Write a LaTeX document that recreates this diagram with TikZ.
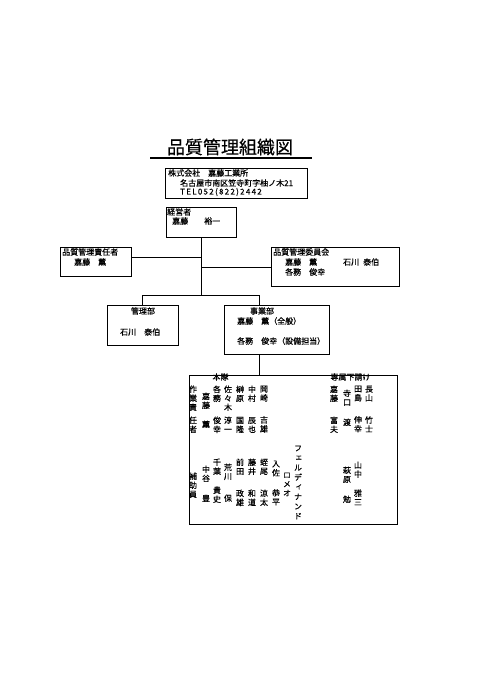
\documentclass[tikz,border=0pt]{standalone}
\usepackage{fontspec}
\setmainfont{Noto Sans CJK JP}[FakeBold=0.45]
\newfontfamily\tatefont{Noto Sans CJK JP}[RawFeature=+vert, FakeBold=0.45]

\begin{document}
\begin{tikzpicture}[x=1pt, y=-1pt,
    box/.style={draw, line width=0.8pt, inner sep=0pt},
    lbl/.style={anchor=west, inner sep=0pt,
                font=\fontsize{8}{9}\selectfont},
    hd/.style={inner sep=0pt, font=\fontsize{8}{9}\selectfont},
    vcol/.style={anchor=north, align=center, inner sep=0pt,
                 font=\tatefont\fontsize{8}{9}\selectfont},
    link/.style={line width=0.8pt},
  ]
  \fill[white] (0,0) rectangle (480,679);
  \useasboundingbox (0,0) rectangle (480,679);

  % title
  \node[inner sep=0pt, font=\fontsize{18}{20}\selectfont] (title)
      at (230,147) {品質管理組織図};
  \draw[line width=1.4pt] (150,158) -- (312,158);

  % boxes
  \node[box, minimum width=142pt, minimum height=30pt] (comp) at (236,183) {};
  \node[box, minimum width=70pt, minimum height=30pt] (keiei) at (201,222) {};
  \node[box, minimum width=71pt, minimum height=29pt] (sekinin) at (95.5,261.5) {};
  \node[box, minimum width=128pt, minimum height=39pt] (iinkai) at (335,266.5) {};
  \node[box, minimum width=71pt, minimum height=40pt] (kanri) at (142.5,325) {};
  \node[box, minimum width=105pt, minimum height=49pt] (jigyo) at (276.5,329.5) {};
  \node[box, minimum width=208pt, minimum height=149pt] (genba) at (293,449.5) {};

  % box texts
  \node[lbl] (comp-a) at (168,173) {株式会社　嘉藤工業所};
  \node[lbl] (comp-b) at (180,183) {名古屋市南区笠寺町字柚ノ木21};
  \node[lbl] (comp-c) at (180,192)
      {\addfontfeature{LetterSpace=16}TEL052(822)2442};
  \node[lbl] (keiei-a) at (167,212) {経営者};
  \node[lbl] (keiei-b) at (172,221) {嘉藤　　裕一};
  \node[lbl] (sek-a) at (62,252) {品質管理責任者};
  \node[lbl] (sek-b) at (74,262) {嘉藤　薫};
  \node[lbl] (iin-a) at (273,252) {品質管理委員会};
  \node[lbl] (iin-b) at (285,262) {嘉藤　薫};
  \node[lbl] (iin-c) at (343,262) {石川\hspace{4pt}泰伯};
  \node[lbl] (iin-d) at (285,272) {各務　俊幸};
  \node[hd] (kanri-a) at (143,311) {管理部};
  \node[lbl] (kanri-b) at (120,332) {石川　泰伯};
  \node[hd] (jig-a) at (262,311) {事業部};
  \node[lbl] (jig-b) at (237,321) {嘉藤　薫（全般）};
  \node[lbl] (jig-c) at (237,341) {各務　俊幸（設備担当）};

  % connectors
  \coordinate (br) at (201,295);
  \coordinate (j1) at (201,257);
  \coordinate (j2) at (201,267);
  \coordinate (jd) at (259,295);
  \draw[link] (keiei.south) -- (br);
  \draw[link] (sekinin.east |- j1) -- (j1);
  \draw[link] (j2) -- (iinkai.west |- j2);
  \draw[link] (kanri.north) |- (jd) -- (jd |- jigyo.north);
  \draw[link] (jd |- jigyo.south) -- (jd |- genba.north);

  % hontai
  \node[hd] (hontai) at (220.5,377) {本隊};
  \node[vcol] (c-sak) at (193,385.4) {作\\業\\責\\[4pt]任\\者};
  \node[vcol] (c-kat) at (206,392.4) {嘉\\藤\\[10pt]薫};
  \node[vcol] (c-kag) at (217,385.4) {各\\務\\[13pt]俊\\幸};
  \node[vcol] (c-sas) at (228,385.4) {佐\\々\\木\\[4pt]淳\\一};
  \node[vcol] (c-sak2) at (240,385.4) {榊\\原\\[13pt]国\\隆};
  \node[vcol] (c-nak) at (252,385.4) {中\\村\\[13pt]辰\\也};
  \node[vcol] (c-oka) at (264,385.4) {岡\\崎\\[13pt]吉\\雄};

  % senzoku shitauke
  \node[hd] (senzoku) at (350.5,377) {専属下請け};
  \node[vcol] (c-kat2) at (334,385.4) {嘉\\藤\\[13pt]富\\夫};
  \node[vcol] (c-ter) at (347,389.4) {寺\\口\\[11pt]渡};
  \node[vcol] (c-tas) at (358,385.4) {田\\島\\[13pt]伸\\幸};
  \node[vcol] (c-nag) at (369,385.4) {長\\山\\[13pt]竹\\士};

  % hojoin
  \node[vcol] (c-hoj) at (193,472.4) {補\\助\\員};
  \node[vcol] (c-nkt) at (206,465.4) {中\\谷\\[11pt]豊};
  \node[vcol] (c-chi) at (217,458.4) {千\\葉\\[10pt]貴\\史};
  \node[vcol] (c-ara) at (228,463.4) {荒\\川\\[13pt]保};
  \node[vcol] (c-mae) at (240,458.4) {前\\田\\[13pt]政\\雄};
  \node[vcol] (c-fuj) at (252,458.4) {藤\\井\\[13pt]和\\道};
  \node[vcol] (c-hir) at (264,458.4) {蛭\\尾\\[13pt]涼\\太};
  \node[vcol] (c-iri) at (276,460.4) {入\\佐\\[11pt]恭\\平};
  \node[vcol] (c-rom) at (287,472.4) {ロ\\メ\\オ};
  \node[vcol, font=\tatefont\fontsize{8}{9.7}\selectfont] (c-fer)
      at (298,445.4) {フ\\ェ\\ル\\デ\\ィ\\ナ\\ン\\ド};
  \node[vcol] (c-hag) at (347,466.4) {萩\\原\\[11pt]勉};
  \node[vcol] (c-yam) at (358,461.4) {山\\中\\[10pt]雅\\三};
\end{tikzpicture}
\end{document}
